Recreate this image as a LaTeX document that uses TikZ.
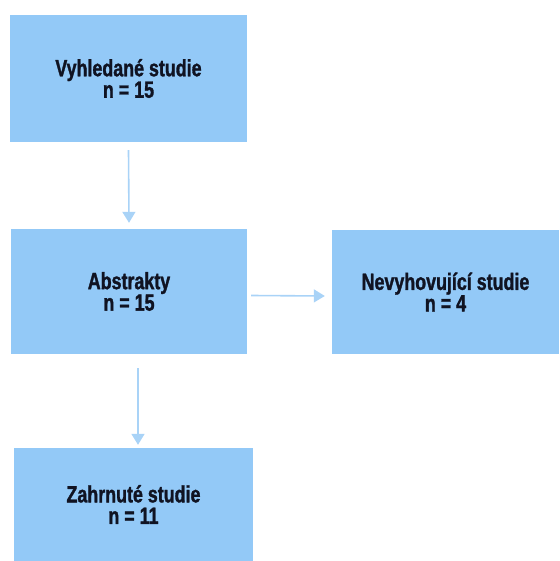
\documentclass[tikz,border=0pt]{standalone}
\usepackage{fontspec}
\setmainfont{Liberation Sans}[FakeStretch=0.76, BoldFeatures={FakeBold=1.3}]
\usetikzlibrary{arrows.meta}
\definecolor{boxblue}{HTML}{93C9F7}
\definecolor{arrowblue}{HTML}{A9D3F7}
\definecolor{txt}{HTML}{101322}
\begin{document}
\begin{tikzpicture}[x=1pt,y=-1pt,
  box/.style={rectangle, fill=boxblue, draw=none, inner sep=0pt, align=center,
    font=\fontsize{23.5}{21.5}\selectfont\bfseries, text=txt},
  conn/.style={draw=arrowblue, line width=1.6pt, -{Triangle[width=13pt,length=11pt]}}]
\useasboundingbox (0,0) rectangle (559,561);
\node[box, minimum width=237pt, minimum height=127pt] (b1) at (128.5,78.5) {Vyhledané studie\\n = 15};
\node[box, minimum width=236pt, minimum height=125pt] (b2) at (129,291.5) {Abstrakty\\n = 15};
\node[box, minimum width=227pt, minimum height=124pt] (b3) at (445.5,292) {Nevyhovující studie\\n = 4};
\node[box, minimum width=239pt, minimum height=113pt] (b4) at (133.5,504.5) {Zahrnuté studie\\n = 11};
\draw[conn] ([yshift=-8pt]b1.south) -- ([yshift=6pt]b2.north);
\draw[conn] ([xshift=4pt,yshift=-4pt]b2.east) -- ([xshift=-7pt,yshift=-4pt]b3.west);
\draw[conn] ([xshift=9pt,yshift=-14pt]b2.south) -- ([xshift=4.5pt,yshift=3pt]b4.north);
\end{tikzpicture}
\end{document}
